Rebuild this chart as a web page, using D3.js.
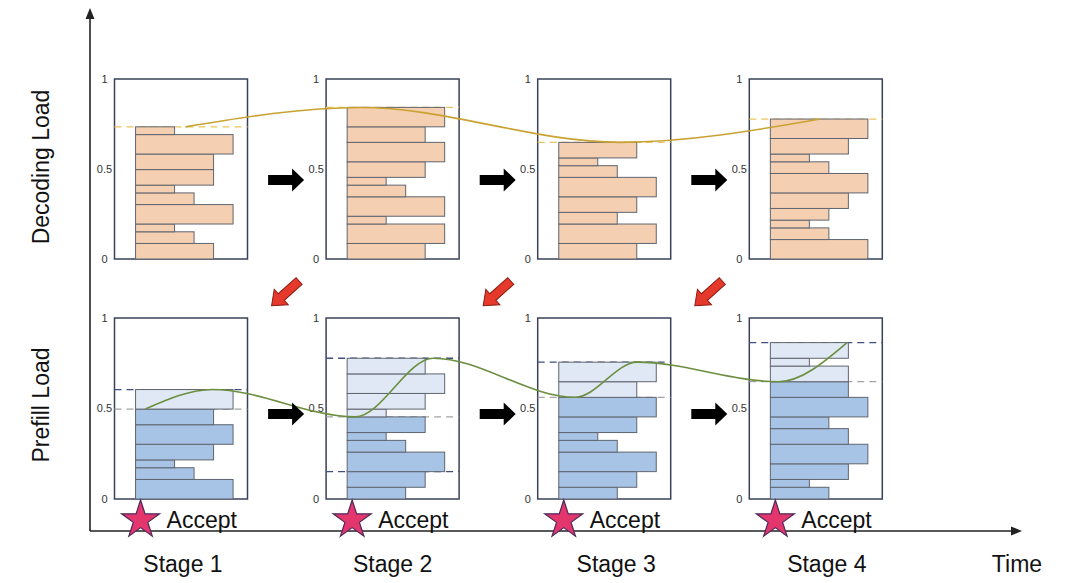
<!DOCTYPE html>
<html lang="en">
<head>
<meta charset="UTF-8" />
<title>Decoding / Prefill load</title>
<style>
  html, body { margin: 0; padding: 0; background: #fff; }
  svg { display: block; font-family: "Liberation Sans", Arial, sans-serif; }
</style>
</head>
<body>
<div id="chart"></div>
<script src="https://cdnjs.cloudflare.com/ajax/libs/d3/7.8.5/d3.min.js"></script>
<script>
var stages = ['Stage 1', 'Stage 2', 'Stage 3', 'Stage 4'];
var loadTicks = [0, 0.5, 1];
var tickFormat = ['0', '0.5', '1'];

// request sizes, stacked bottom to top
var decodeBars = [
	[4, 3, 2, 5, 3, 2, 4, 4, 5, 2],
	[4, 5, 2, 5, 3, 2, 4, 5, 4, 5],
	[4, 5, 3, 4, 5, 3, 2, 4],
	[5, 3, 2, 3, 4, 5, 3, 2, 4, 5]
];
// prefill: requests already there (dark) and newly accepted ones (light)
var prefillDone = [
	[5, 3, 2, 4, 5, 4],
	[3, 4, 5, 3, 2, 4],
	[3, 4, 5, 3, 2, 4, 5],
	[3, 2, 4, 5, 4, 3, 5, 4]
];
var prefillNew = [
	[5],
	[2, 4, 5, 4],
	[4, 5],
	[4, 2, 4]
];
var prefillExtraMark = [null, 7, null, null]; // extra blue dashed level, in size units
var loadPerUnit = 1 / 46.3;

// smooth load trends (time in stage units, load 0..1)
var decodeTrendT = [0.335, 1.162, 2.39, 3.335];
var decodeTrendLoad = [0.734, 0.842, 0.648, 0.778];
var prefillTrendT = [0.146, 0.463, 1.138, 1.507, 2.178, 2.47, 3.137, 3.462];
var prefillTrendLoad = [0.497, 0.605, 0.454, 0.778, 0.562, 0.756, 0.648, 0.864];

var labelNudge = [2, 0, 12, 11];

var W = 1080, H = 583;
var svg = d3.select('#chart').append('svg').attr('width', W).attr('height', H);

var x = d3.scaleLinear().domain([0, 4]).range([114.5, 960.9]);
var panelW = 133;
var barX = d3.scaleLinear().domain([-1.08, 5.74]).range([0, panelW]);
var yTop = d3.scaleLinear().domain([0, 1]).range([259, 79]);
var yBot = d3.scaleLinear().domain([0, 1]).range([499, 318]);

// main axes
var axisCol = '#222';
svg.append('line').attr('x1', 90).attr('x2', 90).attr('y1', 531).attr('y2', 16)
	.attr('stroke', axisCol).attr('stroke-width', 1.6);
svg.append('path').attr('d', 'M90,8 L94.5,19 L85.5,19 Z').attr('fill', axisCol);
svg.append('line').attr('x1', 90).attr('x2', 1014).attr('y1', 531).attr('y2', 531)
	.attr('stroke', axisCol).attr('stroke-width', 1.6);
svg.append('path').attr('d', 'M1022,531 L1011,526.5 L1011,535.5 Z').attr('fill', axisCol);

svg.append('text').attr('transform', 'translate(49,167) rotate(-90)')
	.attr('text-anchor', 'middle').attr('font-size', 23).attr('fill', '#111').text('Decoding Load');
svg.append('text').attr('transform', 'translate(49,405) rotate(-90)')
	.attr('text-anchor', 'middle').attr('font-size', 23).attr('fill', '#111').text('Prefill Load');

function stackBars(sizes, start) {
	var cum = start || 0;
	return sizes.map(function (s) {
		var b = { lo: cum, hi: cum + s, w: s };
		cum += s;
		return b;
	});
}
function sum(a) { return d3.sum(a); }

function drawPanel(i, y, layers, dashes) {
	var g = svg.append('g').attr('transform', 'translate(' + x(i) + ',0)');
	g.append('rect')
		.attr('x', 0).attr('y', y(1)).attr('width', panelW).attr('height', y(0) - y(1))
		.attr('fill', '#fff').attr('stroke', '#39415a').attr('stroke-width', 1.5);
	g.selectAll('text.tick').data(loadTicks).enter().append('text')
		.attr('class', 'tick')
		.attr('x', -10).attr('y', function (d) { return y(d); })
		.attr('dy', '0.35em').attr('text-anchor', 'middle')
		.attr('font-size', 11).attr('fill', '#333')
		.text(function (d, k) { return tickFormat[k]; });
	dashes.forEach(function (d) {
		g.append('line')
			.attr('x1', 0).attr('x2', panelW)
			.attr('y1', y(d.load)).attr('y2', y(d.load))
			.attr('stroke', d.color).attr('stroke-width', 1.3)
			.attr('stroke-dasharray', '7,5');
	});
	layers.forEach(function (layer) {
		g.selectAll(null).data(layer.bars).enter().append('rect')
			.attr('x', barX(0))
			.attr('width', function (d) { return barX(d.w) - barX(0); })
			.attr('y', function (d) { return y(d.hi * loadPerUnit); })
			.attr('height', function (d) { return y(d.lo * loadPerUnit) - y(d.hi * loadPerUnit); })
			.attr('fill', layer.fill).attr('stroke', '#60656f').attr('stroke-width', 1);
	});
}

stages.forEach(function (s, i) {
	var dTotal = sum(decodeBars[i]);
	drawPanel(i, yTop, [{ bars: stackBars(decodeBars[i]), fill: '#f5cfb1' }],
		[{ load: dTotal * loadPerUnit, color: '#e9c65c' }]);

	var pDone = sum(prefillDone[i]);
	var pTotal = pDone + sum(prefillNew[i]);
	var dashes = [
		{ load: pTotal * loadPerUnit, color: '#3f4f80' },
		{ load: pDone * loadPerUnit, color: '#a3a3a3' }
	];
	if (prefillExtraMark[i] !== null) {
		dashes.push({ load: prefillExtraMark[i] * loadPerUnit, color: '#3f4f80' });
	}
	drawPanel(i, yBot, [
		{ bars: stackBars(prefillDone[i]), fill: '#a7c3e6' },
		{ bars: stackBars(prefillNew[i], pDone), fill: '#dfe8f4' }
	], dashes);
});

// trend curves
var decodeLine = d3.line()
	.x(function (d) { return x(d[0]); })
	.y(function (d) { return yTop(d[1]); })
	.curve(d3.curveMonotoneX);
svg.append('path')
	.attr('d', decodeLine(d3.zip(decodeTrendT, decodeTrendLoad)))
	.attr('fill', 'none').attr('stroke', '#c9a231').attr('stroke-width', 1.6);

var prefillLine = d3.line()
	.x(function (d) { return x(d[0]); })
	.y(function (d) { return yBot(d[1]); })
	.curve(d3.curveMonotoneX);
svg.append('path')
	.attr('d', prefillLine(d3.zip(prefillTrendT, prefillTrendLoad)))
	.attr('fill', 'none').attr('stroke', '#6b8f3f').attr('stroke-width', 1.6);

// block arrows
function arrowPath(len, shaft, head, headLen) {
	var b = len - headLen;
	return 'M0,' + (-shaft / 2) + 'L' + b + ',' + (-shaft / 2) + 'L' + b + ',' + (-head / 2) +
		'L' + len + ',0L' + b + ',' + (head / 2) + 'L' + b + ',' + (shaft / 2) + 'L0,' + (shaft / 2) + 'Z';
}
d3.range(3).forEach(function (i) {
	var nx = x(i + 1);
	[180, 414].forEach(function (ay) {
		svg.append('path')
			.attr('d', arrowPath(36, 10, 23, 12))
			.attr('transform', 'translate(' + (nx - 58) + ',' + ay + ')')
			.attr('fill', '#000');
	});
	svg.append('path')
		.attr('d', arrowPath(37, 9, 21, 13))
		.attr('transform', 'translate(' + (nx - 27) + ',281) rotate(138)')
		.attr('fill', '#e5392b').attr('stroke', '#8b1c12').attr('stroke-width', 1);
});

// accept markers and stage labels
var star = d3.symbol().type(d3.symbolStar).size(20 * 20 / 0.8908130915292852);
stages.forEach(function (s, i) {
	var sx = x(i) + barX(0) + 5;
	svg.append('path').attr('d', star())
		.attr('transform', 'translate(' + sx + ',520)')
		.attr('fill', '#e2366c').attr('stroke', '#4d2a5c').attr('stroke-width', 1.2);
	svg.append('text').attr('x', sx + 26).attr('y', 528)
		.attr('font-size', 23).attr('fill', '#111').text('Accept');
	svg.append('text').attr('x', x(i) + panelW / 2 + labelNudge[i]).attr('y', 572)
		.attr('text-anchor', 'middle').attr('font-size', 23).attr('fill', '#111').text(s);
});
svg.append('text').attr('x', 1017).attr('y', 572)
	.attr('text-anchor', 'middle').attr('font-size', 23).attr('fill', '#111').text('Time');
</script>
</body>
</html>
